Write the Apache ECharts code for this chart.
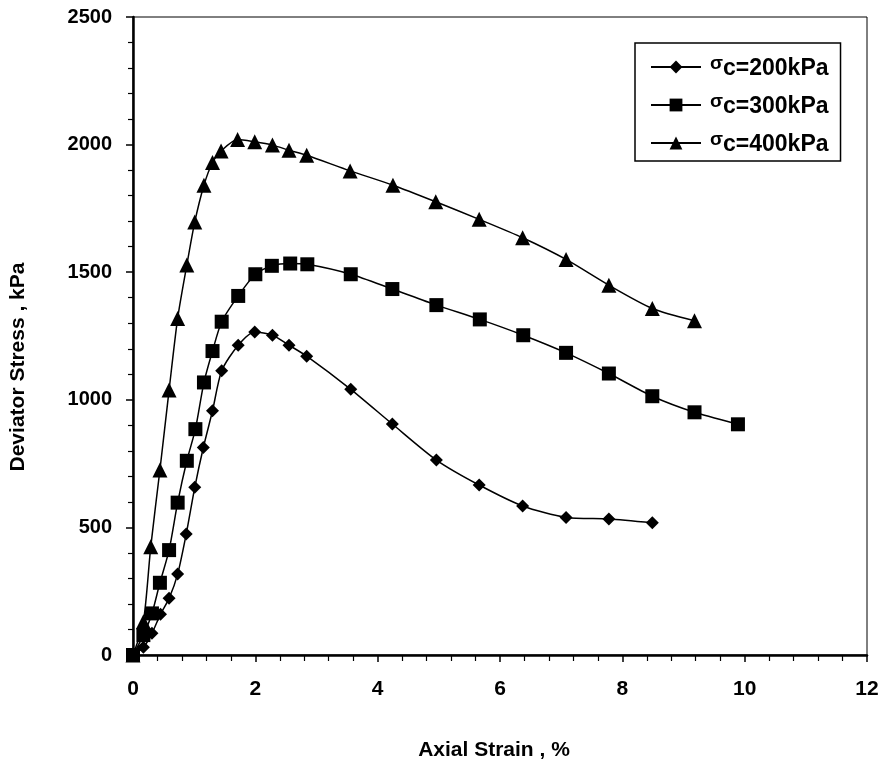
<!DOCTYPE html>
<html>
<head>
<meta charset="utf-8">
<script src="https://cdn.jsdelivr.net/npm/echarts@6/dist/echarts.min.js"></script>
<style>
html,body{margin:0;padding:0;background:#fff;}
#chart{width:889px;height:769px;}
</style>
</head>
<body>
<div id="chart"></div>
<script>
var xTicks = [0, 2, 4, 6, 8, 10, 12];
var yTicks = [0, 500, 1000, 1500, 2000, 2500];
var seriesNames = ['σc=200kPa', 'σc=300kPa', 'σc=400kPa'];

var strain200 = [0, 0.17, 0.31, 0.45, 0.59, 0.73, 0.87, 1.01, 1.15, 1.30, 1.45, 1.72, 1.99, 2.28, 2.55, 2.84, 3.56, 4.24, 4.96, 5.66, 6.37, 7.08, 7.78, 8.49];
var stress200 = [0, 30, 85, 160, 222, 317, 474, 657, 813, 957, 1114, 1214, 1266, 1253, 1214, 1171, 1041, 905, 764, 666, 584, 539, 533, 518];

var strain300 = [0, 0.17, 0.31, 0.44, 0.59, 0.73, 0.88, 1.02, 1.16, 1.30, 1.45, 1.72, 2.00, 2.27, 2.57, 2.85, 3.56, 4.24, 4.96, 5.67, 6.38, 7.08, 7.78, 8.49, 9.18, 9.89];
var stress300 = [0, 78, 163, 283, 411, 597, 761, 885, 1068, 1191, 1306, 1407, 1492, 1525, 1534, 1531, 1492, 1434, 1371, 1315, 1253, 1184, 1103, 1014, 951, 904];

var strain400 = [0, 0.17, 0.29, 0.44, 0.59, 0.73, 0.88, 1.01, 1.16, 1.30, 1.44, 1.71, 1.99, 2.28, 2.55, 2.84, 3.55, 4.25, 4.95, 5.66, 6.37, 7.08, 7.78, 8.49, 9.18];
var stress400 = [0, 130, 424, 725, 1038, 1319, 1528, 1697, 1841, 1930, 1975, 2020, 2011, 1998, 1978, 1958, 1897, 1841, 1776, 1707, 1635, 1550, 1449, 1358, 1310];

function pairs(xs, ys) { return xs.map(function (x, i) { return [x, ys[i]]; }); }

var chart = echarts.init(document.getElementById('chart'), null, {renderer: 'canvas'});
var baseSeries = {
  type: 'line', smooth: 0.25, color: '#000',
  lineStyle: {color: '#000', width: 1.5},
  itemStyle: {color: '#000'},
  z: 3
};
var option = {
  backgroundColor: '#fff',
  animation: false,
  grid: {left: 133, right: 22, top: 17, bottom: 114, show: true, borderColor: '#000', borderWidth: 1, backgroundColor: 'transparent'},
  legend: {
    left: 635, top: 43,
    orient: 'vertical',
    data: seriesNames,
    backgroundColor: '#fff',
    borderColor: '#000', borderWidth: 1.5,
    padding: [11, 12, 5, 15],
    itemWidth: 50, itemHeight: 16, itemGap: 12,
    formatter: function (n) { return '{s|σ}{n|' + n.slice(1) + '}'; },
    textStyle: {
      color: '#000',
      rich: {
        s: {fontFamily: 'Liberation Sans', fontWeight: 'bold', fontSize: 19, color: '#000', lineHeight: 22, padding: [0, 0, 7, 4]},
        n: {fontFamily: 'Liberation Sans', fontWeight: 'bold', fontSize: 23, color: '#000', lineHeight: 22, padding: [3, 0, 0, 0]}
      }
    }
  },
  xAxis: {
    type: 'value', min: xTicks[0], max: xTicks[xTicks.length - 1], interval: 2,
    name: 'Axial Strain , %', nameLocation: 'middle', nameGap: 85,
    nameTextStyle: {fontFamily: 'Liberation Sans', fontWeight: 'bold', fontSize: 21, color: '#000', padding: [0, 12, 0, 0]},
    axisLine: {show: true, onZero: false, lineStyle: {color: '#000', width: 2.5}},
    axisTick: {show: true, inside: false, length: 7, lineStyle: {color: '#000', width: 1.5}},
    minorTick: {show: true, splitNumber: 5, length: 6, lineStyle: {color: '#000', width: 1.2}},
    axisLabel: {fontFamily: 'Liberation Sans', fontWeight: 'bold', fontSize: 21, color: '#000', margin: 24},
    splitLine: {show: false}
  },
  yAxis: {
    type: 'value', min: yTicks[0], max: yTicks[yTicks.length - 1], interval: 500,
    name: 'Deviator Stress , kPa', nameLocation: 'middle', nameGap: 104, nameRotate: 90,
    nameTextStyle: {fontFamily: 'Liberation Sans', fontWeight: 'bold', fontSize: 21, color: '#000', padding: [0, 62, 0, 0]},
    axisLine: {show: true, onZero: false, lineStyle: {color: '#000', width: 2.5}},
    axisTick: {show: true, inside: false, length: 7, lineStyle: {color: '#000', width: 1.5}},
    minorTick: {show: true, splitNumber: 5, length: 5, lineStyle: {color: '#000', width: 1.2}},
    axisLabel: {fontFamily: 'Liberation Sans', fontWeight: 'bold', fontSize: 20, color: '#000', margin: 21,
      formatter: function (v) { return String(v); }},
    splitLine: {show: false}
  },
  series: [
    Object.assign({}, baseSeries, {name: seriesNames[0], symbol: 'diamond', symbolSize: 13, data: pairs(strain200, stress200)}),
    Object.assign({}, baseSeries, {name: seriesNames[1], symbol: 'rect', symbolSize: 14, data: pairs(strain300, stress300)}),
    Object.assign({}, baseSeries, {name: seriesNames[2], symbol: 'triangle', symbolSize: 15, data: pairs(strain400, stress400)})
  ]
};
chart.setOption(option);
</script>
</body>
</html>
